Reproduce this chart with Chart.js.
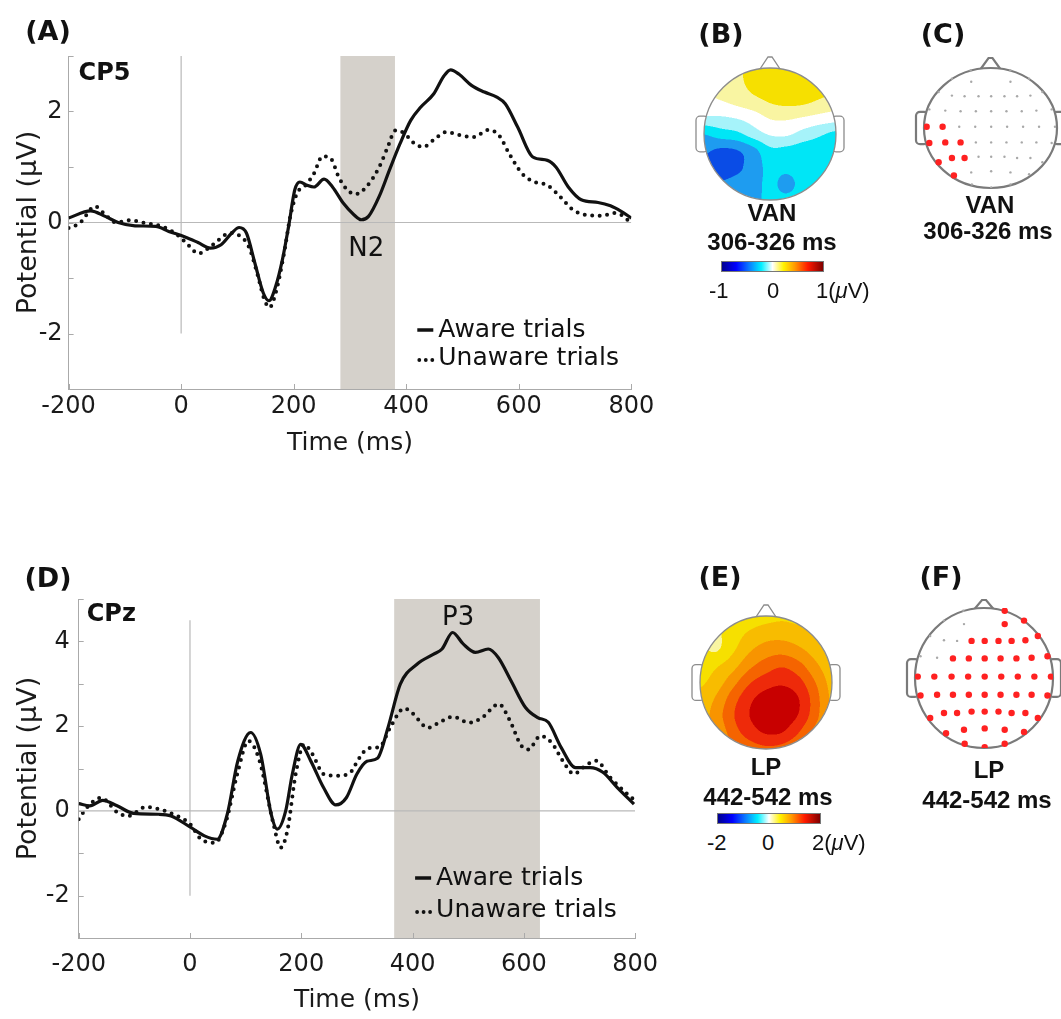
<!DOCTYPE html>
<html lang="en">
<head>
  <meta charset="UTF-8">
  <title>Aware vs unaware ERPs</title>
  <script src="https://cdn.jsdelivr.net/npm/chart.js"></script>
  <style>
    body { margin: 0; background: #fff; }
    #fig { position: relative; width: 1061px; height: 1019px; overflow: hidden; color: #111;
           font-family: 'Liberation Sans', Arial, sans-serif; }
    #fig canvas { position: absolute; }
    .lbl { position: absolute; white-space: nowrap; transform: translate(-50%, -50%); line-height: 1; }
    .panel { font-family: 'DejaVu Sans', sans-serif; font-weight: bold; font-size: 27px; }
    .tname { font-weight: bold; font-size: 24px; }
    .cb { position: absolute; border: 1px solid #777; box-sizing: border-box;
          background: linear-gradient(to right, #00008f 0%, #0000ff 14%, #0a7cff 27%, #00f0ff 39%, #ffffff 50%,
                                      #fff200 61%, #ff9a00 72%, #ff1a00 85%, #7f0000 100%); }
    .cbt { position: absolute; font-size: 22px; line-height: 1; transform: translateY(-50%); }
  </style>
</head>
<body>
<div id="fig">
  <canvas id="erpA" width="660" height="470" style="left:0;top:0"></canvas>
  <canvas id="erpD" width="670" height="499" style="left:0;top:520px"></canvas>
  <canvas id="topoB" width="180" height="180" style="left:680px;top:40px"></canvas>
  <canvas id="sitesC" width="165" height="175" style="left:896px;top:40px"></canvas>
  <canvas id="topoE" width="180" height="180" style="left:680px;top:590px"></canvas>
  <canvas id="sitesF" width="168" height="180" style="left:893px;top:585px"></canvas>

  <div class="lbl panel" style="left:48px;top:30px">(A)</div>
  <div class="lbl panel" style="left:48px;top:577px">(D)</div>
  <div class="lbl panel" style="left:721px;top:33px">(B)</div>
  <div class="lbl panel" style="left:943px;top:33px">(C)</div>
  <div class="lbl panel" style="left:720px;top:576px">(E)</div>
  <div class="lbl panel" style="left:941px;top:576px">(F)</div>

  <div class="lbl tname" style="left:772px;top:213px">VAN</div>
  <div class="lbl tname" style="left:772px;top:242px">306-326 ms</div>
  <div class="lbl tname" style="left:990px;top:205px">VAN</div>
  <div class="lbl tname" style="left:988px;top:231px">306-326 ms</div>
  <div class="lbl tname" style="left:766px;top:767px">LP</div>
  <div class="lbl tname" style="left:768px;top:797px">442-542 ms</div>
  <div class="lbl tname" style="left:989px;top:770px">LP</div>
  <div class="lbl tname" style="left:987px;top:800px">442-542 ms</div>

  <div class="cb" style="left:721px;top:261px;width:103px;height:11px"></div>
  <div class="cbt" style="left:709px;top:291px">-1</div>
  <div class="cbt" style="left:767px;top:291px">0</div>
  <div class="cbt" style="left:816px;top:291px">1(<i>μ</i>V)</div>
  <div class="cb" style="left:717px;top:813px;width:104px;height:11px"></div>
  <div class="cbt" style="left:707px;top:843px">-2</div>
  <div class="cbt" style="left:762px;top:843px">0</div>
  <div class="cbt" style="left:812px;top:843px">2(<i>μ</i>V)</div>
</div>

<script>
// ---- ERP at CP5 (µV) ----
const cp5AwareTime = [-200,-161,-135,-112,-82,-45,-22,7,30,52,71,90,103,116,131,146,156,168,180,191,
  202,211,224,236,254,269,288,307,320,333,352,370,389,408,426,449,467,479,494,516,
  539,561,576,598,625,651,666,688,711,741,763,782,800];
const cp5Aware = [0.08,0.21,0.11,0,-0.06,-0.07,-0.16,-0.26,-0.36,-0.46,-0.40,-0.19,-0.09,-0.19,-0.73,-1.27,-1.41,-1.15,-0.67,-0.07,
  0.59,0.73,0.67,0.64,0.78,0.64,0.35,0.14,0.05,0.11,0.47,0.94,1.42,1.84,2.08,2.32,2.64,2.75,2.67,2.47,
  2.35,2.26,2.14,1.72,1.18,1.12,1.00,0.64,0.41,0.36,0.30,0.20,0.08];
const cp5UnawareTime = [-200,-180,-153,-135,-116,-90,-64,-34,-7,15,30,49,67,86,101,120,135,148,157,168,
  183,194,206,221,236,251,266,280,295,310,329,352,366,381,396,415,430,449,471,497,
  520,546,565,583,606,628,651,673,696,718,748,770,785,800];
const cp5Unaware = [-0.10,-0.01,0.29,0.14,0,0.04,-0.01,-0.07,-0.22,-0.43,-0.56,-0.46,-0.31,-0.19,-0.22,-0.43,-0.91,-1.39,-1.53,-1.27,
  -0.55,0.11,0.53,0.67,0.88,1.19,1.15,0.82,0.59,0.51,0.64,1.00,1.33,1.66,1.61,1.42,1.36,1.49,1.63,1.57,
  1.54,1.67,1.57,1.24,0.88,0.73,0.67,0.47,0.23,0.14,0.12,0.17,0.12,-0.02];
const cp5Window = [283, 380];

// ---- ERP at CPz (µV) ----
const cpzAwareTime = [-200,-180,-157,-131,-101,-56,-34,0,26,49,67,86,109,127,146,157,172,184,199,217,
  240,262,281,300,318,337,356,378,408,438,453,472,491,513,536,554,577,603,625,644,
  667,693,719,742,768,798];
const cpzAware = [0.17,0.12,0.25,0.12,-0.06,-0.08,-0.12,-0.38,-0.59,-0.67,-0.08,1.18,1.85,1.34,-0.08,-0.43,0,0.87,1.57,1.18,
  0.55,0.14,0.31,0.87,1.17,1.24,1.97,2.99,3.46,3.70,3.82,4.21,3.94,3.74,3.82,3.62,3.07,2.44,2.20,2.09,
  1.50,1.02,1.02,0.91,0.55,0.16];
const cpzUnawareTime = [-200,-185,-160,-130,-110,-80,-55,-30,0,20,45,65,85,105,125,150,163,175,190,205,
  220,240,260,285,305,320,340,360,385,400,428,450,473,502,525,555,575,595,608,630,
  650,670,690,710,730,755,780,800];
const cpzUnaware = [-0.20,0.08,0.31,-0.04,-0.12,0.09,0.04,-0.08,-0.31,-0.67,-0.75,-0.24,0.87,1.65,1.18,-0.31,-0.87,-0.47,0.87,1.57,
  1.34,0.87,0.83,0.87,1.26,1.48,1.50,1.97,2.42,2.30,1.96,2.10,2.22,2.08,2.20,2.52,2.13,1.55,1.45,1.77,
  1.61,1.18,0.87,1.06,1.18,0.79,0.47,0.24];
const cpzWindow = [367, 629];

const timeTicks = [-200, 0, 200, 400, 600, 800];

// ---- scalp maps (µV), 9x9 grid, front row first, left to right ----
const vanMap = [
  [ 0.12, 0.16, 0.20, 0.28, 0.32, 0.32, 0.30, 0.30, 0.28],
  [ 0.08, 0.12, 0.18, 0.27, 0.31, 0.33, 0.32, 0.30, 0.28],
  [ 0.05, 0.07, 0.12, 0.18, 0.24, 0.27, 0.26, 0.21, 0.16],
  [-0.09,-0.09,-0.06, 0.00, 0.09, 0.10, 0.07, 0.03, 0.00],
  [-0.37,-0.30,-0.26,-0.15,-0.06,-0.05,-0.13,-0.20,-0.26],
  [-0.50,-0.55,-0.53,-0.42,-0.26,-0.27,-0.30,-0.30,-0.30],
  [-0.55,-0.60,-0.56,-0.45,-0.33,-0.33,-0.30,-0.30,-0.30],
  [-0.48,-0.51,-0.47,-0.43,-0.34,-0.42,-0.32,-0.30,-0.30],
  [-0.42,-0.45,-0.43,-0.41,-0.34,-0.34,-0.31,-0.30,-0.30]
];
const lpMap = [
  [0.40, 0.45, 0.50, 0.58, 0.65, 0.70, 0.65, 0.60, 0.55],
  [0.35, 0.40, 0.60, 0.78, 0.90, 0.92, 0.85, 0.70, 0.60],
  [0.50, 0.42, 0.70, 1.00, 1.18, 1.22, 1.10, 0.90, 0.70],
  [0.60, 0.72, 0.95, 1.28, 1.50, 1.62, 1.45, 1.12, 0.85],
  [0.70, 0.90, 1.25, 1.62, 1.82, 1.90, 1.75, 1.35, 0.95],
  [0.85, 1.10, 1.52, 1.88, 2.08, 2.12, 1.95, 1.48, 1.00],
  [0.90, 1.20, 1.62, 1.95, 2.12, 2.12, 1.92, 1.45, 1.00],
  [0.90, 1.10, 1.50, 1.80, 1.98, 1.95, 1.65, 1.25, 1.00],
  [0.90, 1.05, 1.30, 1.50, 1.60, 1.55, 1.35, 1.10, 0.95]
];
// contour band colours, from -0.9 to +1.05 of the colour range in steps of 0.15
const bandColors = ['#00008f','#0000f0','#0a4ce6','#1e9cf0','#00e6f6','#a6f3fa','#ffffff',
                    '#f9f5a2','#f6e000','#f8bc00','#f89400','#f56400','#ee2a0a','#c80000'];

// ---- electrode layout (unit head, nose up) ----
const siteNames = ['Fp1','Fp2','AF7','AF3','AF4','AF8',
  'F7','F5','F3','F1','Fz','F2','F4','F6','F8',
  'FT7','FC5','FC3','FC1','FCz','FC2','FC4','FC6','FT8',
  'T7','C5','C3','C1','Cz','C2','C4','C6','T8',
  'TP7','CP5','CP3','CP1','CPz','CP2','CP4','CP6','TP8',
  'P7','P5','P3','P1','Pz','P2','P4','P6','P8',
  'PO7','PO3','POz','PO4','PO8','O1','Oz','O2'];
const siteX = [-0.30,0.30,-0.58,-0.29,0.30,0.58,
  -0.78,-0.58,-0.39,-0.18,0.01,0.21,0.40,0.60,0.78,
  -0.92,-0.68,-0.45,-0.22,0.01,0.24,0.47,0.69,0.92,
  -0.96,-0.72,-0.47,-0.23,0.01,0.25,0.49,0.73,0.97,
  -0.92,-0.68,-0.45,-0.22,0.01,0.24,0.47,0.69,0.92,
  -0.78,-0.58,-0.39,-0.18,0.01,0.21,0.40,0.60,0.78,
  -0.55,-0.29,0.01,0.30,0.58,-0.28,0.01,0.30];
const siteY = [0.96,0.96,0.82,0.77,0.77,0.82,
  0.60,0.54,0.53,0.53,0.53,0.53,0.53,0.54,0.60,
  0.31,0.29,0.28,0.28,0.28,0.28,0.28,0.29,0.31,
  0.02,0.02,0.02,0.02,0.02,0.02,0.02,0.02,0.02,
  -0.25,-0.24,-0.24,-0.24,-0.24,-0.24,-0.24,-0.24,-0.25,
  -0.57,-0.50,-0.50,-0.48,-0.48,-0.48,-0.50,-0.50,-0.57,
  -0.79,-0.74,-0.72,-0.74,-0.77,-0.94,-0.99,-0.94];
const vanSites = ['T7','C5','TP7','CP5','CP3','P7','P5','P3','PO7'];
const lpExcluded = ['Fp1','AF7','AF3','F7','F5','F3','FT7','FC5'];
const lpSites = siteNames.filter(n => !lpExcluded.includes(n));

Chart.defaults.font.family = "'DejaVu Sans', sans-serif";
Chart.defaults.color = '#1a1a1a';

const xy = (xs, ys) => xs.map((x, i) => ({ x, y: ys[i] }));

// shaded window, channel name, component label, legend and inward ticks
const erpDecor = {
  id: 'erpDecor',
  beforeDatasetsDraw(chart, args, o) {
    const { ctx, chartArea: a, scales: { x } } = chart;
    const x0 = x.getPixelForValue(o.window[0]), x1 = x.getPixelForValue(o.window[1]);
    ctx.save();
    ctx.fillStyle = '#d5d1cb';
    ctx.fillRect(x0, a.top, x1 - x0, a.bottom - a.top);
    ctx.restore();
  },
  afterDatasetsDraw(chart, args, o) {
    const { ctx, chartArea: a, scales: { x, y } } = chart;
    ctx.save();
    ctx.strokeStyle = '#aaa';
    ctx.lineWidth = 1;
    y.ticks.forEach(t => {
      const py = Math.round(y.getPixelForValue(t.value)) + 0.5;
      ctx.beginPath(); ctx.moveTo(a.left, py); ctx.lineTo(a.left + 5, py); ctx.stroke();
    });
    x.ticks.forEach(t => {
      const px = Math.round(x.getPixelForValue(t.value)) + 0.5;
      ctx.beginPath(); ctx.moveTo(px, a.bottom); ctx.lineTo(px, a.bottom - 5); ctx.stroke();
    });

    ctx.fillStyle = '#111';
    ctx.textBaseline = 'middle';
    ctx.font = "bold 24px 'DejaVu Sans'";
    ctx.textAlign = 'left';
    ctx.fillText(o.channel, a.left + o.chanDx, a.top + o.chanDy);

    ctx.font = "26px 'DejaVu Sans'";
    ctx.textAlign = 'center';
    ctx.fillText(o.component.text, x.getPixelForValue(o.component.t), y.getPixelForValue(o.component.v));

    // legend
    const lx = a.right - o.legend.dx;
    const ly1 = a.bottom - o.legend.dy1, ly2 = a.bottom - o.legend.dy2;
    ctx.font = "25px 'DejaVu Sans'";
    ctx.textAlign = 'left';
    ctx.strokeStyle = '#111';
    ctx.lineWidth = 3.5;
    ctx.beginPath(); ctx.moveTo(lx - 21, ly1); ctx.lineTo(lx - 5, ly1); ctx.stroke();
    ctx.fillText('Aware trials', lx, ly1);
    for (let i = 0; i < 3; i++) {
      ctx.beginPath(); ctx.arc(lx - 19 + i * 6.5, ly2 + 2, 1.9, 0, Math.PI * 2); ctx.fill();
    }
    ctx.fillText('Unaware trials', lx, ly2);
    ctx.restore();
  }
};

function erpChart(id, cfg) {
  const guide = { borderColor: '#b9b9b9', borderWidth: 1.2, pointRadius: 0, tension: 0 };
  return new Chart(document.getElementById(id), {
    type: 'line',
    data: {
      datasets: [
        { data: xy(cfg.awareT, cfg.aware), borderColor: '#111', borderWidth: 3.2, pointRadius: 0,
          cubicInterpolationMode: 'monotone' },
        { data: xy(cfg.unawareT, cfg.unaware), borderColor: '#111', borderWidth: 4, pointRadius: 0,
          borderDash: [0, 7.5], borderCapStyle: 'round', cubicInterpolationMode: 'monotone' },
        { data: [{ x: -200, y: 0 }, { x: 800, y: 0 }], ...guide },
        { data: [{ x: 0, y: -2 }, { x: 0, y: cfg.onsetTop }], ...guide }
      ]
    },
    options: {
      responsive: false,
      animation: false,
      events: [],
      layout: { padding: cfg.pad },
      plugins: {
        legend: { display: false },
        tooltip: { enabled: false },
        erpDecor: cfg.decor
      },
      scales: {
        x: {
          type: 'linear', min: -200, max: 800,
          afterBuildTicks: s => { s.ticks = timeTicks.map(v => ({ value: v })); },
          ticks: { font: { size: 24 }, padding: cfg.xTickPad, maxRotation: 0 },
          grid: { display: false, drawTicks: false },
          border: { display: true, color: '#aaa' },
          title: { display: true, text: 'Time (ms)', font: { size: 25 }, padding: { top: 0, bottom: cfg.xTitlePad } },
          afterFit: s => { s.height = cfg.xHeight; }
        },
        y: {
          min: cfg.yMin, max: cfg.yMax,
          ticks: { stepSize: 1, font: { size: 24 }, padding: cfg.yTickPad,
                   callback: v => (v % 2 === 0 ? String(v) : '') },
          grid: { display: false, drawTicks: false },
          border: { display: true, color: '#aaa' },
          title: { display: true, text: 'Potential (μV)', font: { size: 27 }, padding: { top: 13, bottom: 0 } },
          afterFit: s => { s.width = cfg.yWidth; }
        }
      }
    },
    plugins: [erpDecor]
  });
}

erpChart('erpA', {
  awareT: cp5AwareTime, aware: cp5Aware, unawareT: cp5UnawareTime, unaware: cp5Unaware,
  onsetTop: 3, yMin: -3, yMax: 3,
  pad: { left: 0, top: 56, right: 28.7, bottom: 0 },
  yWidth: 68.6, xHeight: 81, xTickPad: 3, yTickPad: 6, xTitlePad: 12,
  decor: { window: cp5Window, channel: 'CP5', chanDx: 10, chanDy: 18,
           component: { text: 'N2', t: 329, v: -0.49 },
           legend: { dx: 193, dy1: 59, dy2: 31 } }
});

erpChart('erpD', {
  awareT: cpzAwareTime, aware: cpzAware, unawareT: cpzUnawareTime, unaware: cpzUnaware,
  onsetTop: 4.5, yMin: -3, yMax: 5,
  pad: { left: 0, top: 79, right: 29.4, bottom: 0 },
  yWidth: 78.7, xHeight: 81, xTickPad: 12, yTickPad: 9, xTitlePad: 4,
  decor: { window: cpzWindow, channel: 'CPz', chanDx: 8, chanDy: 16,
           component: { text: 'P3', t: 482, v: 4.55 },
           legend: { dx: 199, dy1: 60, dy2: 28 } }
});

// ---- scalp maps ----
function sampleGrid(g, gx, gy) {
  const n = g.length - 1;
  const fx = (gx + 1) / 2 * n, fy = (1 - gy) / 2 * n;
  const ix = Math.floor(fx), iy = Math.floor(fy);
  const tx = fx - ix, ty = fy - iy;
  const at = (r, c) => g[Math.max(0, Math.min(n, r))][Math.max(0, Math.min(n, c))];
  const cr = (p0, p1, p2, p3, t) =>
    p1 + 0.5 * t * (p2 - p0 + t * (2 * p0 - 5 * p1 + 4 * p2 - p3 + t * (3 * (p1 - p2) + p3 - p0)));
  const r = [];
  for (let k = -1; k <= 2; k++) r.push(cr(at(iy + k, ix - 1), at(iy + k, ix), at(iy + k, ix + 1), at(iy + k, ix + 2), tx));
  return cr(r[0], r[1], r[2], r[3], ty);
}

function hexRgb(h) {
  const n = parseInt(h.slice(1), 16);
  return [n >> 16, (n >> 8) & 255, n & 255];
}
const bandRgb = bandColors.map(hexRgb);

const headPlugin = {
  id: 'head',
  beforeDatasetsDraw(chart, args, o) {
    const { ctx, scales: { x, y } } = chart;
    const cx = x.getPixelForValue(0), cy = y.getPixelForValue(0);
    const rx = x.getPixelForValue(1) - cx, ry = cy - y.getPixelForValue(1);
    ctx.save();
    ctx.strokeStyle = o.stroke;
    ctx.lineWidth = o.width;
    ctx.fillStyle = '#fff';
    // ears
    const eh = ry * 0.54;
    ctx.beginPath(); ctx.roundRect(cx - rx - 8, cy - eh / 2, 12, eh, 4); ctx.fill(); ctx.stroke();
    ctx.beginPath(); ctx.roundRect(cx + rx - 4, cy - eh / 2, 12, eh, 4); ctx.fill(); ctx.stroke();
    // nose
    ctx.beginPath();
    ctx.moveTo(cx - 12, cy - ry + 4);
    ctx.lineTo(cx - 2, cy - ry - o.nose);
    ctx.lineTo(cx + 2, cy - ry - o.nose);
    ctx.lineTo(cx + 12, cy - ry + 4);
    ctx.fill(); ctx.stroke();
    // scalp
    ctx.beginPath(); ctx.ellipse(cx, cy, rx, ry, 0, 0, Math.PI * 2); ctx.fill();

    if (o.map) {
      const ss = 2;
      const w = Math.ceil(2 * rx * ss), h = Math.ceil(2 * ry * ss);
      const off = document.createElement('canvas');
      off.width = w; off.height = h;
      const octx = off.getContext('2d');
      const img = octx.createImageData(w, h);
      for (let j = 0; j < h; j++) {
        const gy = y.getValueForPixel(cy - ry + (j + 0.5) / ss);
        for (let i = 0; i < w; i++) {
          const gx = x.getValueForPixel(cx - rx + (i + 0.5) / ss);
          const v = sampleGrid(o.map, gx, gy) / o.range;
          const k = Math.max(0, Math.min(bandRgb.length - 1, Math.round(v / 0.15) + 6));
          const c = bandRgb[k], p = (j * w + i) * 4;
          img.data[p] = c[0]; img.data[p + 1] = c[1]; img.data[p + 2] = c[2]; img.data[p + 3] = 255;
        }
      }
      octx.putImageData(img, 0, 0);
      ctx.save();
      ctx.beginPath(); ctx.ellipse(cx, cy, rx, ry, 0, 0, Math.PI * 2); ctx.clip();
      ctx.imageSmoothingEnabled = true;
      ctx.drawImage(off, cx - rx, cy - ry, 2 * rx, 2 * ry);
      ctx.restore();
    }
    ctx.beginPath(); ctx.ellipse(cx, cy, rx, ry, 0, 0, Math.PI * 2); ctx.stroke();
    ctx.restore();
  }
};

function headChart(id, pad, head, datasets) {
  return new Chart(document.getElementById(id), {
    type: 'scatter',
    data: { datasets },
    options: {
      responsive: false,
      animation: false,
      events: [],
      layout: { padding: pad },
      plugins: { legend: { display: false }, tooltip: { enabled: false }, head },
      scales: {
        x: { min: -1, max: 1, display: false },
        y: { min: -1, max: 1, display: false }
      }
    },
    plugins: [headPlugin]
  });
}

function siteSets(selected) {
  const pts = sel => siteNames.map((n, i) => ({ n, x: siteX[i], y: siteY[i] }))
    .filter(p => selected.includes(p.n) === sel);
  return [
    { data: pts(true), pointRadius: 3.2, pointBackgroundColor: '#ff2121', pointBorderWidth: 0 },
    { data: pts(false), pointRadius: 1.2, pointBackgroundColor: '#a8a8a8', pointBorderWidth: 0 }
  ];
}

headChart('topoB', { left: 24, top: 28, right: 24, bottom: 20 },
  { map: vanMap, range: 1, stroke: '#8c8c8c', width: 1.3, nose: 11 }, []);
headChart('topoE', { left: 20, top: 26, right: 28, bottom: 21 },
  { map: lpMap, range: 2, stroke: '#8c8c8c', width: 1.3, nose: 11 }, []);
headChart('sitesC', { left: 28, top: 28, right: 3, bottom: 27 },
  { stroke: '#7a7a7a', width: 2.2, nose: 10 }, siteSets(vanSites));
headChart('sitesF', { left: 22, top: 23, right: 8, bottom: 17 },
  { stroke: '#7a7a7a', width: 2.2, nose: 8 }, siteSets(lpSites));
</script>
</body>
</html>
